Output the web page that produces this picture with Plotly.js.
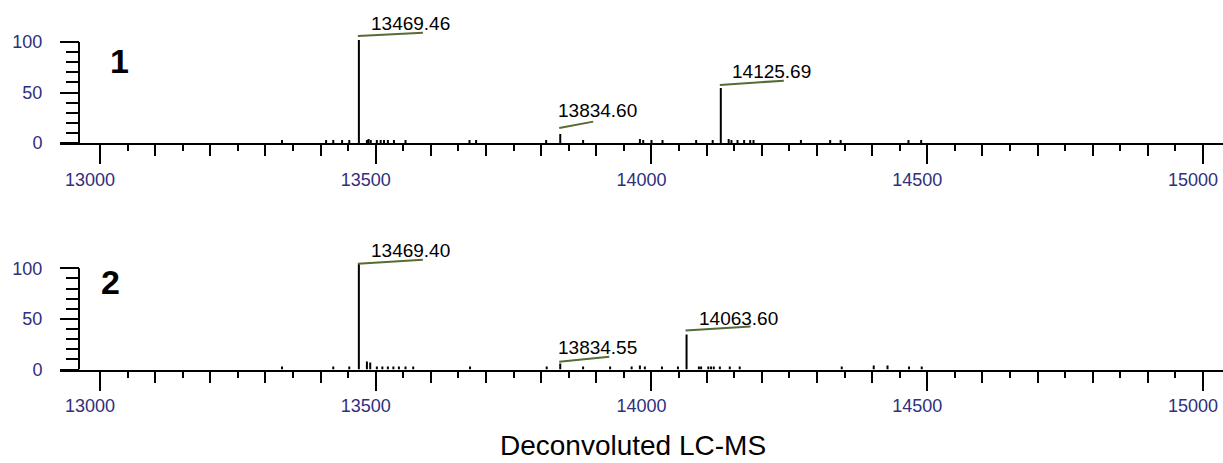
<!DOCTYPE html>
<html>
<head>
<meta charset="utf-8">
<script src="https://cdn.plot.ly/plotly-3.0.1.min.js"></script>
<style>html,body{margin:0;padding:0;background:#fff;}#chart{width:1223px;height:463px;}</style>
</head>
<body>
<div id="chart"></div>
<script>
// ---------- data ----------
const panelNames = ['1', '2'];

const peakMass1 = [13469.46, 13834.60, 14125.69];
const peakInt1 = [102, 9, 54.5];
const peakLabel1 = ['13469.46', '13834.60', '14125.69'];
const noiseMass1 = [13330, 13410, 13423, 13439, 13452, 13484, 13487, 13491, 13502, 13509, 13515, 13522, 13533, 13554,
  13670, 13682, 13809, 13876, 13979, 13985, 14000, 14020, 14081, 14111, 14140, 14145, 14156, 14168, 14179, 14185,
  14271, 14324, 14343, 14466, 14489];
const noiseInt1 = [3, 3, 3, 3, 3, 3, 4, 3, 3, 3, 3, 3, 3, 3,
  3, 3, 3, 3, 4, 3, 3, 3, 3, 3, 4, 3, 3, 3, 3, 3,
  3, 3, 3, 3, 3];

const peakMass2 = [13469.40, 13834.55, 14063.60];
const peakInt2 = [104.5, 6, 34.5];
const peakLabel2 = ['13469.40', '13834.55', '14063.60'];
const noiseMass2 = [13330, 13423, 13452, 13484, 13490, 13502, 13512, 13522, 13532, 13542, 13554, 13568,
  13671, 13810, 13876, 13925, 13964, 13979, 13988, 14019, 14048, 14086, 14090, 14103, 14108, 14113, 14124,
  14142, 14160, 14345, 14403, 14428, 14467, 14490];
const noiseInt2 = [3, 3, 3, 8, 7, 3, 3, 3, 3, 3, 3, 3,
  3, 3, 3, 3, 3, 4, 3, 3, 3, 3, 3, 3, 3, 3, 3,
  3, 3, 3, 4, 4, 3, 3];

const xTickVals = [13000, 13500, 14000, 14500, 15000];
const xTickText = ['13000', '13500', '14000', '14500', '15000'];
const yTickVals = [0, 50, 100];
const yTickText = ['0', '50', '100'];
const xTitle = 'Deconvoluted LC-MS';

// ---------- style / layout constants ----------
const W = 1223, H = 463;
const NAVY = '#2f2f7c';
const OLIVE = '#566b35';
const FONT = 'Liberation Sans, Arial, sans-serif';
const xRange = [12927.5, 15036.3];
const yRange = [0, 130];
// pixel offsets (text centre dx, dy up; line x1 length, y0/y1 up) per label
const labelStyle1 = [
  {dx: 51.5, dy: 16.5, len: 64, ly0: 4, ly1: 7.3},
  {dx: 37.5, dy: 23, len: 33, ly0: 6, ly1: 12.3},
  {dx: 51, dy: 16.5, len: 63, ly0: 3, ly1: 7.3}
];
const labelStyle2 = [
  {dx: 52, dy: 13.3, len: 64, ly0: 0, ly1: 4},
  {dx: 37, dy: 15.7, len: 49, ly0: 1.7, ly1: 6.7},
  {dx: 51.5, dy: 16, len: 64, ly0: 4, ly1: 8}
];

function sticks(masses, ints) {
  const xs = [], ys = [];
  masses.forEach((m, i) => { xs.push(m, m, null); ys.push(0, ints[i], null); });
  return {xs, ys};
}

const s1 = sticks(peakMass1.concat(noiseMass1), peakInt1.concat(noiseInt1));
const s2 = sticks(peakMass2.concat(noiseMass2), peakInt2.concat(noiseInt2));

const traces = [
  {x: s1.xs, y: s1.ys, xaxis: 'x', yaxis: 'y', mode: 'lines', line: {color: '#000', width: 2}, hoverinfo: 'skip', showlegend: false},
  {x: s2.xs, y: s2.ys, xaxis: 'x2', yaxis: 'y2', mode: 'lines', line: {color: '#000', width: 2}, hoverinfo: 'skip', showlegend: false},
  {x: s1.xs, y: s1.ys, xaxis: 'x3', yaxis: 'y', mode: 'lines', opacity: 0, line: {width: 0}, hoverinfo: 'skip', showlegend: false},
  {x: s2.xs, y: s2.ys, xaxis: 'x4', yaxis: 'y2', mode: 'lines', opacity: 0, line: {width: 0}, hoverinfo: 'skip', showlegend: false}
];

// tick position lists
const odd50 = [], hundreds = [];
for (let v = xTickVals[0]; v <= xTickVals[xTickVals.length - 1]; v += 50) {
  if (v % 100 === 50) odd50.push(v);
  else if (v % 500 !== 0) hundreds.push(v);
}
const yMinor = [];
for (let v = 10; v < 100; v += 10) if (v !== 50) yMinor.push(v);

function mainX(anchor) {
  return {
    domain: [60 / W, 1], range: xRange, anchor: anchor,
    showline: true, linewidth: 2, linecolor: '#000',
    ticks: 'outside', tickmode: 'array', tickvals: xTickVals, ticktext: xTickText,
    ticklen: 19, tickwidth: 2, tickcolor: '#000',
    minor: {tickmode: 'array', tickvals: odd50, ticks: 'outside', ticklen: 6, tickwidth: 2, tickcolor: '#000', showgrid: false},
    tickfont: {family: FONT, size: 18, color: NAVY},
    ticklabelshift: -10,
    ticklabeloverflow: 'allow',
    showgrid: false, zeroline: false, fixedrange: true
  };
}
function medX(over, anchor) {
  return {
    overlaying: over, anchor: anchor, range: xRange, side: 'bottom',
    showline: false, ticks: 'outside', tickmode: 'array', tickvals: hundreds,
    ticklen: 12, tickwidth: 2, tickcolor: '#000', showticklabels: false,
    showgrid: false, zeroline: false, fixedrange: true
  };
}
function mainY(domain) {
  return {
    domain: domain, range: yRange, anchor: 'free', position: 79 / W,
    showline: false, ticks: 'outside', tickmode: 'array', tickvals: yTickVals, ticktext: yTickText,
    ticklen: 19, tickwidth: 2, tickcolor: '#000',
    minor: {tickmode: 'array', tickvals: yMinor, ticks: 'outside', ticklen: 13, tickwidth: 2, tickcolor: '#000', showgrid: false},
    tickfont: {family: FONT, size: 18, color: NAVY},
    ticklabelstandoff: 14,
    showgrid: false, zeroline: false, fixedrange: true
  };
}

const topZero = 143, topK = 1.01, botZero = 369.5, botK = 1.012;
const yDom1 = [(H - topZero) / H, (H - (topZero - yRange[1] * topK)) / H];
const yDom2 = [(H - botZero) / H, (H - (botZero - yRange[1] * botK)) / H];

const shapes = [];
const annotations = [];
function addLabels(masses, ints, labels, styles, xref, yref) {
  masses.forEach((m, i) => {
    const st = styles[i];
    shapes.push({type: 'line', xref: xref, yref: yref, xsizemode: 'pixel', ysizemode: 'pixel',
      xanchor: m, yanchor: ints[i], x0: -1, x1: st.len, y0: st.ly0, y1: st.ly1,
      line: {color: OLIVE, width: 2}});
    annotations.push({xref: xref, yref: yref, x: m, y: ints[i], xshift: st.dx, yshift: st.dy,
      xanchor: 'center', yanchor: 'middle', showarrow: false, text: labels[i],
      font: {family: FONT, size: 19, color: '#000'}});
  });
}
addLabels(peakMass1, peakInt1, peakLabel1, labelStyle1, 'x', 'y');
addLabels(peakMass2, peakInt2, peakLabel2, labelStyle2, 'x2', 'y2');

// y axis lines spanning 0..100 only
shapes.push({type: 'line', xref: 'paper', yref: 'y', x0: 79 / W, x1: 79 / W, y0: yTickVals[0], y1: yTickVals[2], line: {color: '#000', width: 2}});
shapes.push({type: 'line', xref: 'paper', yref: 'y2', x0: 79 / W, x1: 79 / W, y0: yTickVals[0], y1: yTickVals[2], line: {color: '#000', width: 2}});

// panel numbers
annotations.push({xref: 'paper', yref: 'paper', x: 119.5 / W, y: (H - 61.5) / H, xanchor: 'center', yanchor: 'middle',
  showarrow: false, text: '<b>' + panelNames[0] + '</b>', font: {family: FONT, size: 34, color: '#000'}});
annotations.push({xref: 'paper', yref: 'paper', x: 111 / W, y: (H - 282) / H, xanchor: 'center', yanchor: 'middle',
  showarrow: false, text: '<b>' + panelNames[1] + '</b>', font: {family: FONT, size: 34, color: '#000'}});

const layout = {
  width: W, height: H,
  margin: {l: 0, r: 0, t: 0, b: 0, pad: 0},
  paper_bgcolor: '#fff', plot_bgcolor: 'rgba(0,0,0,0)',
  showlegend: false,
  title: {text: xTitle, x: 633 / W, xanchor: 'center', y: (H - 445) / H, yanchor: 'middle',
    font: {family: FONT, size: 28, color: '#000'}},
  xaxis: mainX('y'),
  xaxis2: mainX('y2'),
  xaxis3: medX('x', 'y'),
  xaxis4: medX('x2', 'y2'),
  yaxis: mainY(yDom1),
  yaxis2: mainY(yDom2),
  shapes: shapes,
  annotations: annotations
};

Plotly.newPlot('chart', traces, layout, {displayModeBar: false, staticPlot: true});
</script>
</body>
</html>
